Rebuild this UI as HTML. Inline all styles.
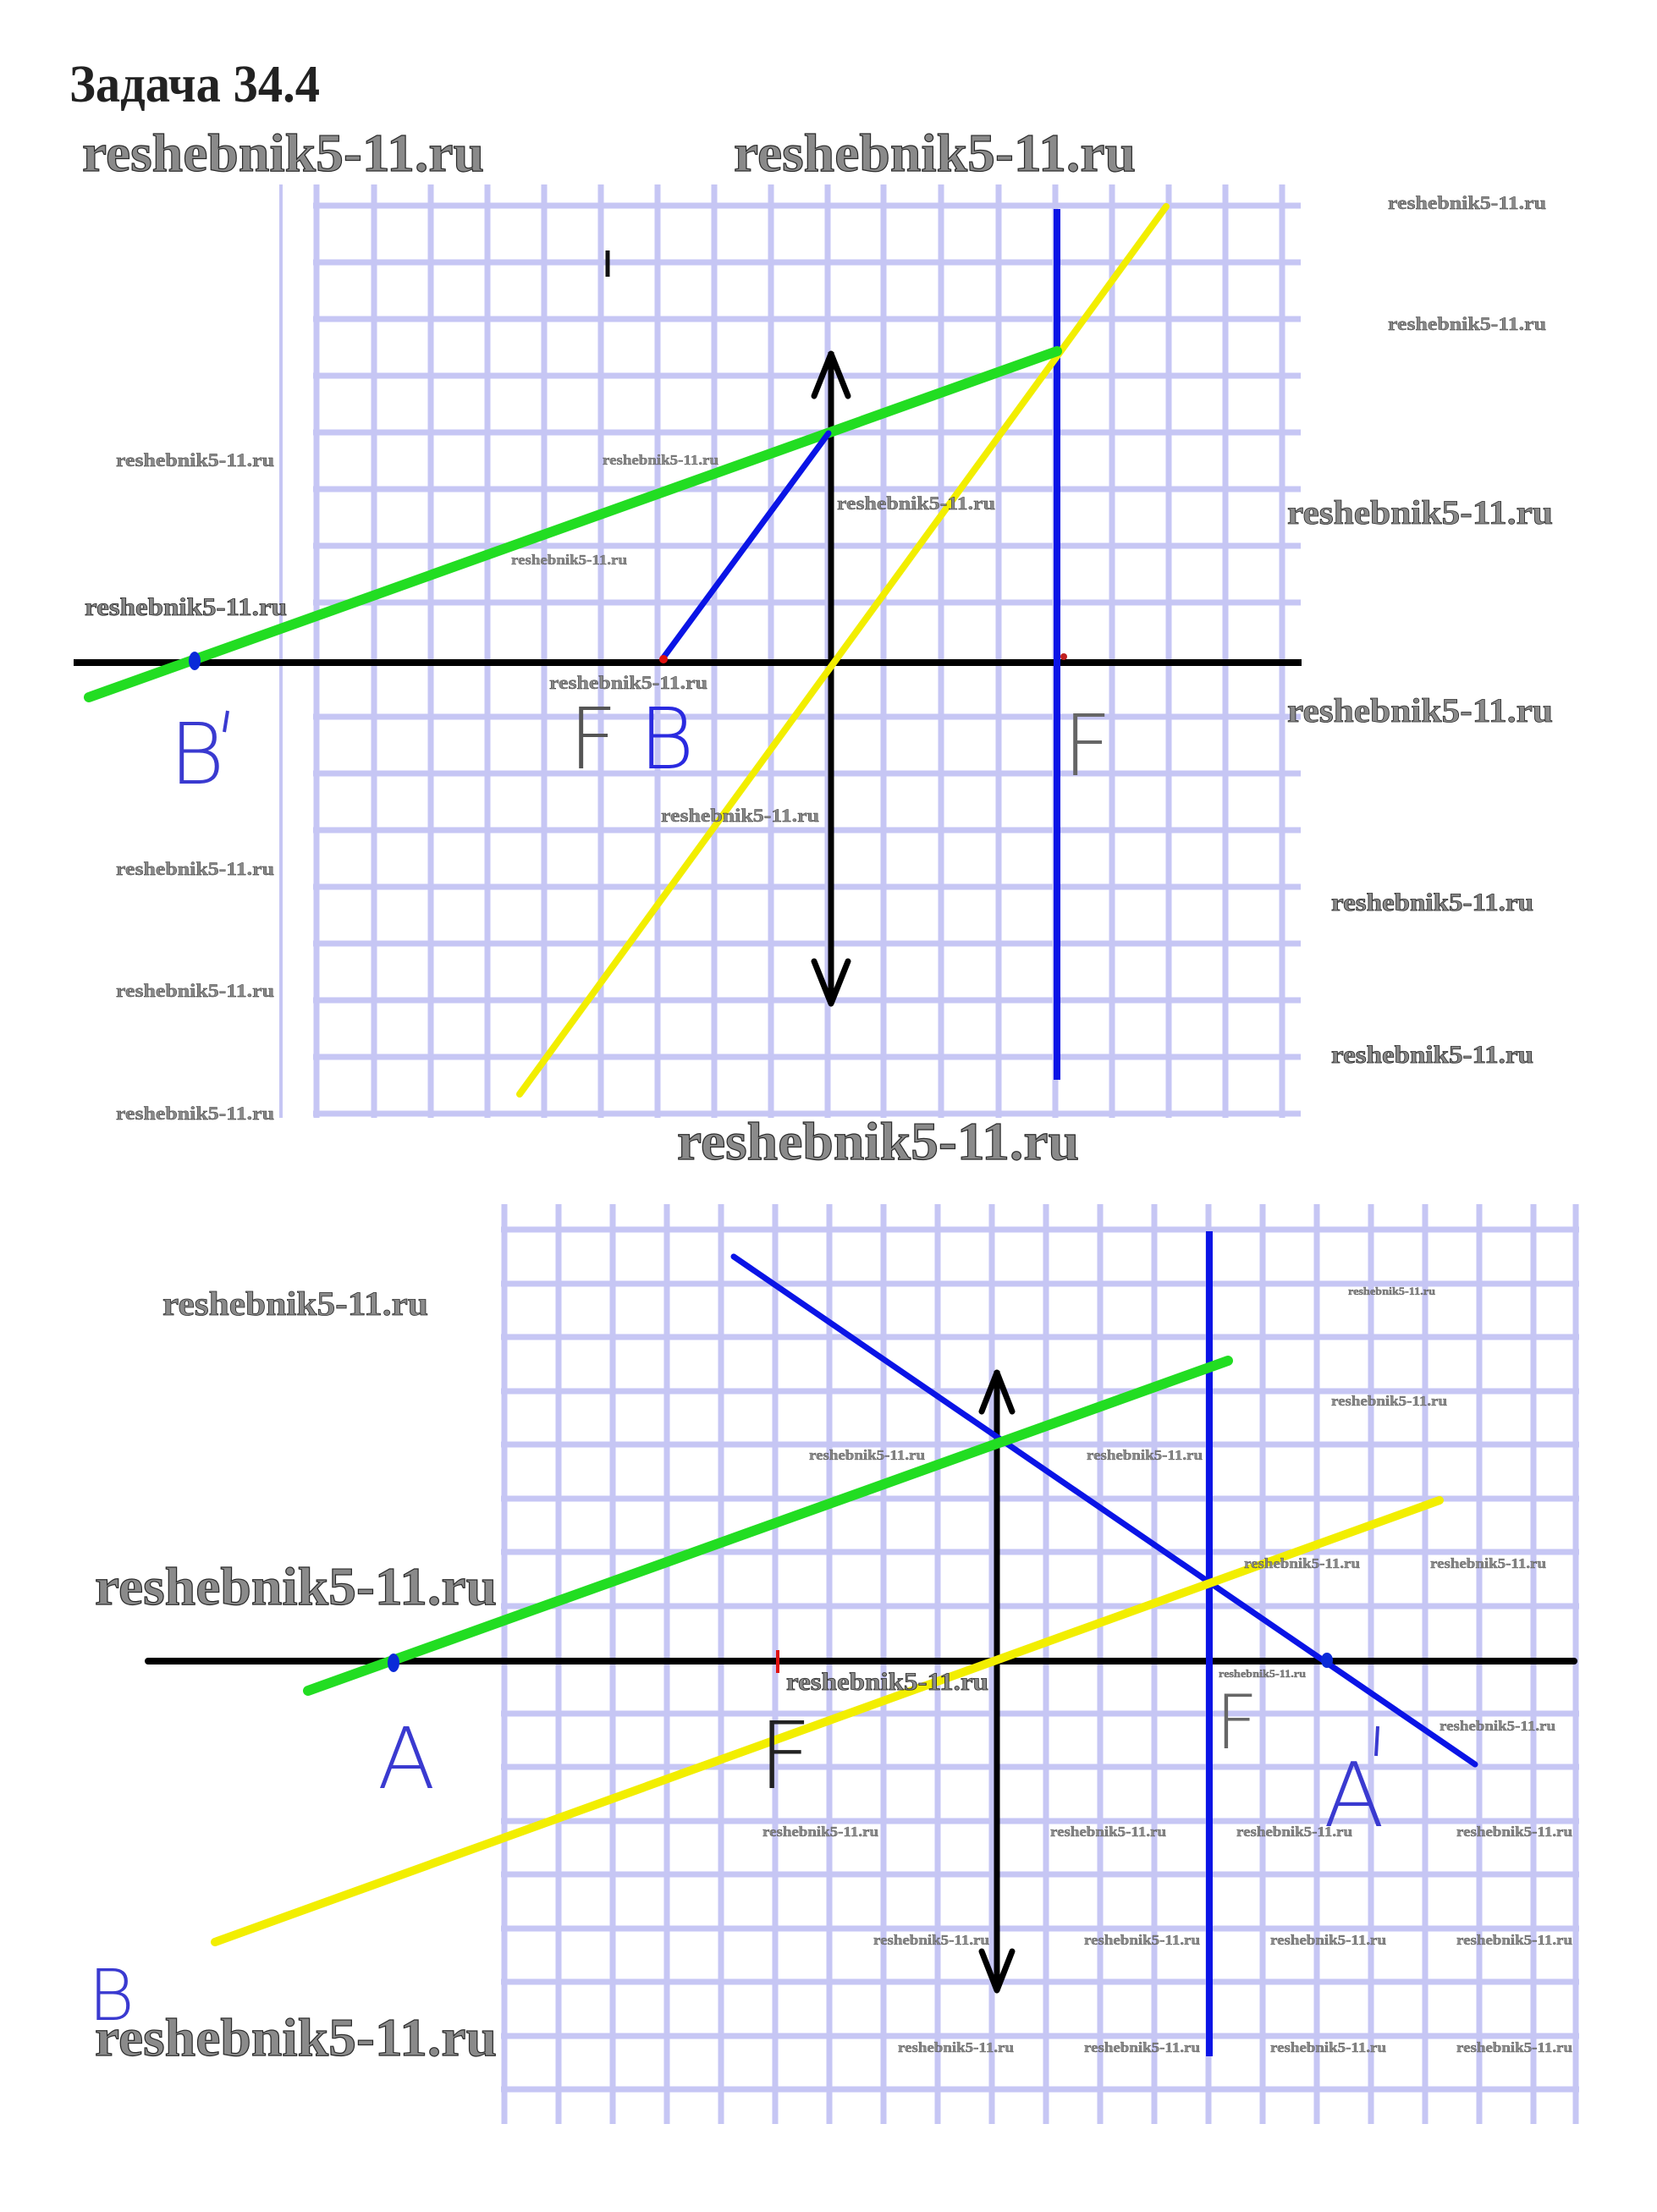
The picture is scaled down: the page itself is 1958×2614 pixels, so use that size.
<!DOCTYPE html>
<html><head><meta charset="utf-8"><style>
html,body{margin:0;padding:0;background:#fff;}
svg{display:block;}
.w{font-family:"Liberation Serif",serif;font-weight:bold;fill:#8a8a8a;stroke:#2a2a2a;}
.h{font-family:"DejaVu Sans","Liberation Sans",sans-serif;font-weight:200;}
</style></head><body>
<svg width="1958" height="2614" viewBox="0 0 1958 2614" xmlns="http://www.w3.org/2000/svg">
<rect width="1958" height="2614" fill="#fff"/>
<text x="82" y="120" font-family="Liberation Serif, Noto Serif CJK SC, serif" font-weight="bold" font-size="62" fill="#222" textLength="296" lengthAdjust="spacingAndGlyphs">Задача 34.4</text>

<!-- TOP GRID -->
<g stroke="#c6c6f4" stroke-width="7">
<line x1="332" y1="218" x2="332" y2="1321" stroke-width="4"/>
<line x1="374" y1="218" x2="374" y2="1321"/><line x1="442" y1="218" x2="442" y2="1321"/><line x1="509" y1="218" x2="509" y2="1321"/><line x1="576" y1="218" x2="576" y2="1321"/><line x1="643" y1="218" x2="643" y2="1321"/><line x1="710" y1="218" x2="710" y2="1321"/><line x1="777" y1="218" x2="777" y2="1321"/><line x1="844" y1="218" x2="844" y2="1321"/><line x1="911" y1="218" x2="911" y2="1321"/><line x1="978" y1="218" x2="978" y2="1321"/><line x1="1044" y1="218" x2="1044" y2="1321"/><line x1="1112" y1="218" x2="1112" y2="1321"/><line x1="1180" y1="218" x2="1180" y2="1321"/><line x1="1247" y1="218" x2="1247" y2="1321"/><line x1="1314" y1="218" x2="1314" y2="1321"/><line x1="1381" y1="218" x2="1381" y2="1321"/><line x1="1448" y1="218" x2="1448" y2="1321"/><line x1="1515" y1="218" x2="1515" y2="1321"/>
<line x1="370" y1="243" x2="1537" y2="243"/><line x1="370" y1="310" x2="1537" y2="310"/><line x1="370" y1="377" x2="1537" y2="377"/><line x1="370" y1="444" x2="1537" y2="444"/><line x1="370" y1="511" x2="1537" y2="511"/><line x1="370" y1="578" x2="1537" y2="578"/><line x1="370" y1="645" x2="1537" y2="645"/><line x1="370" y1="712" x2="1537" y2="712"/><line x1="370" y1="847" x2="1537" y2="847"/><line x1="370" y1="914" x2="1537" y2="914"/><line x1="370" y1="981" x2="1537" y2="981"/><line x1="370" y1="1048" x2="1537" y2="1048"/><line x1="370" y1="1115" x2="1537" y2="1115"/><line x1="370" y1="1182" x2="1537" y2="1182"/><line x1="370" y1="1249" x2="1537" y2="1249"/><line x1="370" y1="1316" x2="1537" y2="1316"/>
</g>
<line x1="718" y1="296" x2="718" y2="327" stroke="#111" stroke-width="5"/>
<line x1="87" y1="783" x2="1538" y2="783" stroke="#000" stroke-width="8"/>
<line x1="982" y1="416" x2="982" y2="1186" stroke="#000" stroke-width="7"/>
<polyline points="962,468 982,418 1002,468" fill="none" stroke="#000" stroke-width="7" stroke-linecap="round" stroke-linejoin="round"/>
<polyline points="962,1136 982,1186 1002,1136" fill="none" stroke="#000" stroke-width="7" stroke-linecap="round" stroke-linejoin="round"/>
<line x1="1249" y1="247" x2="1249" y2="1276" stroke="#0a14e6" stroke-width="8"/>
<line x1="614" y1="1293" x2="1378" y2="244" stroke="#f2ee00" stroke-width="8" stroke-linecap="round"/>
<line x1="105" y1="824" x2="1249" y2="415" stroke="#22dd22" stroke-width="12" stroke-linecap="round"/>
<line x1="784" y1="777" x2="979" y2="512" stroke="#0a14e6" stroke-width="7" stroke-linecap="round"/>
<ellipse cx="230" cy="781" rx="7" ry="11" fill="#0a2ad8"/>
<circle cx="784" cy="779" r="5" fill="#e01010"/>
<circle cx="1257" cy="776" r="4" fill="#c02020"/>
<text x="200" y="926" class="h" font-size="100" fill="#3a3ad0">B</text>
<line x1="269" y1="840" x2="265" y2="865" stroke="#3a3ad0" stroke-width="4"/>
<text x="672" y="908" class="h" font-size="100" fill="#555">F</text>
<text x="755" y="908" class="h" font-size="100" fill="#2a2ae0">B</text>
<text x="1256" y="916" class="h" font-size="100" fill="#666">F</text>

<!-- BOTTOM GRID -->
<g stroke="#c6c6f4" stroke-width="7">
<line x1="596" y1="1423" x2="596" y2="2510"/><line x1="660" y1="1423" x2="660" y2="2510"/><line x1="724" y1="1423" x2="724" y2="2510"/><line x1="788" y1="1423" x2="788" y2="2510"/><line x1="852" y1="1423" x2="852" y2="2510"/><line x1="916" y1="1423" x2="916" y2="2510"/><line x1="980" y1="1423" x2="980" y2="2510"/><line x1="1044" y1="1423" x2="1044" y2="2510"/><line x1="1108" y1="1423" x2="1108" y2="2510"/><line x1="1172" y1="1423" x2="1172" y2="2510"/><line x1="1236" y1="1423" x2="1236" y2="2510"/><line x1="1300" y1="1423" x2="1300" y2="2510"/><line x1="1364" y1="1423" x2="1364" y2="2510"/><line x1="1428" y1="1423" x2="1428" y2="2510"/><line x1="1492" y1="1423" x2="1492" y2="2510"/><line x1="1556" y1="1423" x2="1556" y2="2510"/><line x1="1620" y1="1423" x2="1620" y2="2510"/><line x1="1684" y1="1423" x2="1684" y2="2510"/><line x1="1748" y1="1423" x2="1748" y2="2510"/><line x1="1812" y1="1423" x2="1812" y2="2510"/><line x1="1862" y1="1423" x2="1862" y2="2510"/>
<line x1="592" y1="1453" x2="1866" y2="1453"/><line x1="592" y1="1517" x2="1866" y2="1517"/><line x1="592" y1="1580" x2="1866" y2="1580"/><line x1="592" y1="1644" x2="1866" y2="1644"/><line x1="592" y1="1707" x2="1866" y2="1707"/><line x1="592" y1="1771" x2="1866" y2="1771"/><line x1="592" y1="1834" x2="1866" y2="1834"/><line x1="592" y1="1898" x2="1866" y2="1898"/><line x1="592" y1="2025" x2="1866" y2="2025"/><line x1="592" y1="2088" x2="1866" y2="2088"/><line x1="592" y1="2152" x2="1866" y2="2152"/><line x1="592" y1="2215" x2="1866" y2="2215"/><line x1="592" y1="2279" x2="1866" y2="2279"/><line x1="592" y1="2342" x2="1866" y2="2342"/><line x1="592" y1="2406" x2="1866" y2="2406"/><line x1="592" y1="2469" x2="1866" y2="2469"/>
</g>
<line x1="175" y1="1963" x2="1860" y2="1963" stroke="#000" stroke-width="8" stroke-linecap="round"/>
<line x1="1178" y1="1620" x2="1178" y2="2352" stroke="#000" stroke-width="7"/>
<polyline points="1160,1668 1178,1622 1196,1668" fill="none" stroke="#000" stroke-width="7" stroke-linecap="round" stroke-linejoin="round"/>
<polyline points="1160,2306 1178,2352 1196,2306" fill="none" stroke="#000" stroke-width="7" stroke-linecap="round" stroke-linejoin="round"/>
<line x1="1429" y1="1455" x2="1429" y2="2430" stroke="#0a14e6" stroke-width="8"/>
<line x1="867" y1="1485" x2="1743" y2="2085" stroke="#0a14e6" stroke-width="7" stroke-linecap="round"/>
<line x1="254" y1="2295" x2="1701" y2="1773" stroke="#f2ee00" stroke-width="10" stroke-linecap="round"/>
<line x1="364" y1="1998" x2="1451" y2="1608" stroke="#22dd22" stroke-width="12" stroke-linecap="round"/>
<ellipse cx="465" cy="1965" rx="7" ry="11" fill="#0a2ad8"/>
<ellipse cx="1568" cy="1962" rx="7" ry="9" fill="#0a2ad8"/>
<line x1="919" y1="1950" x2="919" y2="1977" stroke="#e01010" stroke-width="4"/>
<text x="446" y="2113" class="h" font-size="100" fill="#3a3ad0">A</text>
<text x="896" y="2113" class="h" font-size="110" fill="#222">F</text>
<text x="1436" y="2066" class="h" font-size="88" fill="#666">F</text>
<text x="1564" y="2158" class="h" font-size="105" fill="#3a3ad0">A</text>
<line x1="1628" y1="2040" x2="1626" y2="2075" stroke="#3a3ad0" stroke-width="4"/>
<text x="104" y="2387" class="h" font-size="84" fill="#3a3ad0">B</text>

<!-- WATERMARKS -->
<g class="w" stroke-width="1.2">
<text x="97" y="202" font-size="64" textLength="475" lengthAdjust="spacingAndGlyphs">reshebnik5-11.ru</text>
<text x="867" y="202" font-size="64" textLength="475" lengthAdjust="spacingAndGlyphs">reshebnik5-11.ru</text>
<text x="800" y="1370" font-size="64" textLength="475" lengthAdjust="spacingAndGlyphs">reshebnik5-11.ru</text>
<text x="112" y="1896" font-size="64" textLength="475" lengthAdjust="spacingAndGlyphs">reshebnik5-11.ru</text>
<text x="112" y="2429" font-size="64" textLength="475" lengthAdjust="spacingAndGlyphs">reshebnik5-11.ru</text>
</g>
<g class="w" stroke-width="0.8">
<text x="1521" y="619" font-size="40" textLength="314" lengthAdjust="spacingAndGlyphs">reshebnik5-11.ru</text>
<text x="1521" y="853" font-size="40" textLength="314" lengthAdjust="spacingAndGlyphs">reshebnik5-11.ru</text>
<text x="192" y="1554" font-size="40" textLength="314" lengthAdjust="spacingAndGlyphs">reshebnik5-11.ru</text>
<text x="100" y="727" font-size="30" textLength="239" lengthAdjust="spacingAndGlyphs">reshebnik5-11.ru</text>
<text x="1573" y="1076" font-size="30" textLength="239" lengthAdjust="spacingAndGlyphs">reshebnik5-11.ru</text>
<text x="1573" y="1256" font-size="30" textLength="239" lengthAdjust="spacingAndGlyphs">reshebnik5-11.ru</text>
<text x="929" y="1997" font-size="30" textLength="239" lengthAdjust="spacingAndGlyphs">reshebnik5-11.ru</text>
</g>
<g class="w" stroke-width="0.4">
<text x="1640" y="247" font-size="22" textLength="187" lengthAdjust="spacingAndGlyphs">reshebnik5-11.ru</text>
<text x="1640" y="390" font-size="22" textLength="187" lengthAdjust="spacingAndGlyphs">reshebnik5-11.ru</text>
<text x="137" y="551" font-size="22" textLength="187" lengthAdjust="spacingAndGlyphs">reshebnik5-11.ru</text>
<text x="137" y="1034" font-size="22" textLength="187" lengthAdjust="spacingAndGlyphs">reshebnik5-11.ru</text>
<text x="137" y="1178" font-size="22" textLength="187" lengthAdjust="spacingAndGlyphs">reshebnik5-11.ru</text>
<text x="137" y="1323" font-size="22" textLength="187" lengthAdjust="spacingAndGlyphs">reshebnik5-11.ru</text>
<text x="989" y="602" font-size="22" textLength="187" lengthAdjust="spacingAndGlyphs">reshebnik5-11.ru</text>
<text x="649" y="814" font-size="22" textLength="187" lengthAdjust="spacingAndGlyphs">reshebnik5-11.ru</text>
<text x="781" y="971" font-size="22" textLength="187" lengthAdjust="spacingAndGlyphs">reshebnik5-11.ru</text>
</g>
<g class="w" stroke-width="0.3">
<text x="712" y="549" font-size="17" textLength="137" lengthAdjust="spacingAndGlyphs">reshebnik5-11.ru</text>
<text x="604" y="667" font-size="17" textLength="137" lengthAdjust="spacingAndGlyphs">reshebnik5-11.ru</text>
<text x="1573" y="1661" font-size="17" textLength="137" lengthAdjust="spacingAndGlyphs">reshebnik5-11.ru</text>
<text x="956" y="1725" font-size="17" textLength="137" lengthAdjust="spacingAndGlyphs">reshebnik5-11.ru</text>
<text x="1284" y="1725" font-size="17" textLength="137" lengthAdjust="spacingAndGlyphs">reshebnik5-11.ru</text>
<text x="1470" y="1853" font-size="17" textLength="137" lengthAdjust="spacingAndGlyphs">reshebnik5-11.ru</text>
<text x="1690" y="1853" font-size="17" textLength="137" lengthAdjust="spacingAndGlyphs">reshebnik5-11.ru</text>
<text x="1701" y="2045" font-size="17" textLength="137" lengthAdjust="spacingAndGlyphs">reshebnik5-11.ru</text>
<text x="901" y="2170" font-size="17" textLength="137" lengthAdjust="spacingAndGlyphs">reshebnik5-11.ru</text>
<text x="1241" y="2170" font-size="17" textLength="137" lengthAdjust="spacingAndGlyphs">reshebnik5-11.ru</text>
<text x="1461" y="2170" font-size="17" textLength="137" lengthAdjust="spacingAndGlyphs">reshebnik5-11.ru</text>
<text x="1721" y="2170" font-size="17" textLength="137" lengthAdjust="spacingAndGlyphs">reshebnik5-11.ru</text>
<text x="1032" y="2298" font-size="17" textLength="137" lengthAdjust="spacingAndGlyphs">reshebnik5-11.ru</text>
<text x="1281" y="2298" font-size="17" textLength="137" lengthAdjust="spacingAndGlyphs">reshebnik5-11.ru</text>
<text x="1501" y="2298" font-size="17" textLength="137" lengthAdjust="spacingAndGlyphs">reshebnik5-11.ru</text>
<text x="1721" y="2298" font-size="17" textLength="137" lengthAdjust="spacingAndGlyphs">reshebnik5-11.ru</text>
<text x="1061" y="2425" font-size="17" textLength="137" lengthAdjust="spacingAndGlyphs">reshebnik5-11.ru</text>
<text x="1281" y="2425" font-size="17" textLength="137" lengthAdjust="spacingAndGlyphs">reshebnik5-11.ru</text>
<text x="1501" y="2425" font-size="17" textLength="137" lengthAdjust="spacingAndGlyphs">reshebnik5-11.ru</text>
<text x="1721" y="2425" font-size="17" textLength="137" lengthAdjust="spacingAndGlyphs">reshebnik5-11.ru</text>
<text x="1593" y="1530" font-size="13" textLength="103" lengthAdjust="spacingAndGlyphs">reshebnik5-11.ru</text>
<text x="1440" y="1982" font-size="13" textLength="103" lengthAdjust="spacingAndGlyphs">reshebnik5-11.ru</text>
</g>
</svg>
</body></html>
